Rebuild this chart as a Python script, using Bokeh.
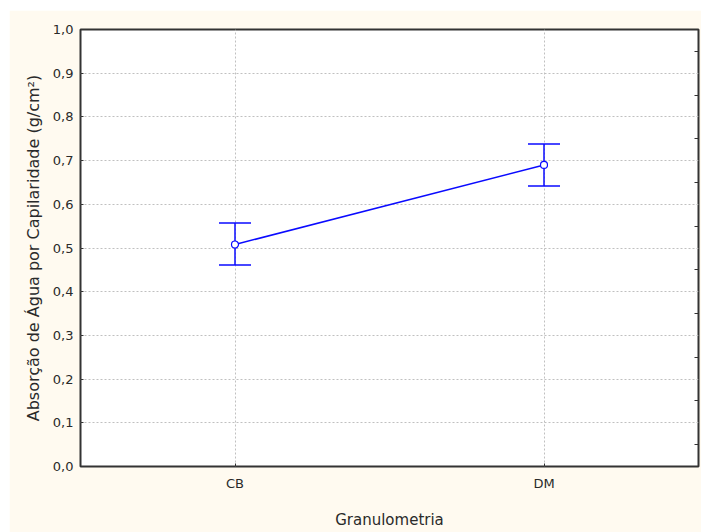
from bokeh.plotting import figure
from bokeh.models import (ColumnDataSource, Whisker, TeeHead, LinearAxis,
                          FixedTicker, CustomJSTickFormatter, Range1d, FactorRange)
from bokeh.embed import file_html
from bokeh.resources import INLINE

# Mean capillary water absorption per grading, with upper/lower interval bounds
categories = ["CB", "DM"]
means = [0.508, 0.690]
upper = [0.557, 0.738]
lower = [0.461, 0.642]
y_ticks = [0.0, 0.1, 0.2, 0.3, 0.4, 0.5, 0.6, 0.7, 0.8, 0.9, 1.0]
y_minor = [0.05, 0.15, 0.25, 0.35, 0.45, 0.55, 0.65, 0.75, 0.85, 0.95]

FONT = "DejaVu Sans"
TEXT = "#2a2a2a"
BLUE = "#0a0aff"
CREAM = "#fffaf0"

src = ColumnDataSource(dict(cat=categories, mean=means, upper=upper, lower=lower))

p = figure(width=692, height=522, margin=(10, 0, 0, 9),
           x_range=FactorRange(*categories), y_range=Range1d(0, 1.0),
           output_backend="svg", toolbar_location=None,
           min_border_left=71, min_border_right=3,
           min_border_top=19, min_border_bottom=66)

p.border_fill_color = CREAM
p.background_fill_color = "white"
p.outline_line_color = "#333333"
p.outline_line_width = 2

# grids
p.xgrid.grid_line_color = "#c0c0c0"
p.xgrid.grid_line_dash = "2 2"
p.ygrid.grid_line_color = "#c0c0c0"
p.ygrid.grid_line_dash = "2 2"
p.ygrid.ticker = FixedTicker(ticks=y_ticks)

# left axis
ya = p.yaxis[0]
ya.ticker = FixedTicker(ticks=y_ticks)
ya.formatter = CustomJSTickFormatter(code="return tick.toFixed(1).replace('.', ',');")
ya.axis_line_color = None
ya.major_tick_in = 3
ya.major_tick_out = 0
ya.major_tick_line_color = "#333333"
ya.minor_tick_line_color = None
ya.major_label_text_font = FONT
ya.major_label_text_font_size = "13px"
ya.major_label_text_color = TEXT
ya.major_label_standoff = 7
ya.axis_label = "Absorção de Água por Capilaridade (g/cm²)"
ya.axis_label_text_font = FONT
ya.axis_label_text_font_size = "16px"
ya.axis_label_text_font_style = "normal"
ya.axis_label_text_color = TEXT
ya.axis_label_standoff = 7

# bottom axis
xa = p.xaxis[0]
xa.axis_line_color = None
xa.major_tick_in = 3
xa.major_tick_out = 0
xa.major_tick_line_color = "#333333"
xa.major_label_text_font = FONT
xa.major_label_text_font_size = "13px"
xa.major_label_text_color = TEXT
xa.major_label_standoff = 9
xa.axis_label = "Granulometria"
xa.axis_label_text_font = FONT
xa.axis_label_text_font_size = "15px"
xa.axis_label_text_font_style = "normal"
xa.axis_label_text_color = TEXT
xa.axis_label_standoff = 17

# right axis: inward half-step marks, no labels
ra = LinearAxis(ticker=FixedTicker(ticks=y_minor),
                formatter=CustomJSTickFormatter(code="return '';"),
                axis_line_color=None, major_tick_in=4, major_tick_out=0,
                major_tick_line_color="#333333", minor_tick_line_color=None)
p.add_layout(ra, "right")

# error bars
wh = Whisker(source=src, base="cat", upper="upper", lower="lower",
             line_color=BLUE, line_width=1.5,
             upper_head=TeeHead(size=32, line_color=BLUE, line_width=1.5),
             lower_head=TeeHead(size=32, line_color=BLUE, line_width=1.5))
p.add_layout(wh)

# mean line and markers
p.line("cat", "mean", source=src, line_color=BLUE, line_width=1.5)
p.scatter("cat", "mean", source=src, size=7, fill_color="white",
          line_color=BLUE, line_width=1.2)

open("out.html", "w").write(file_html(p, INLINE))
